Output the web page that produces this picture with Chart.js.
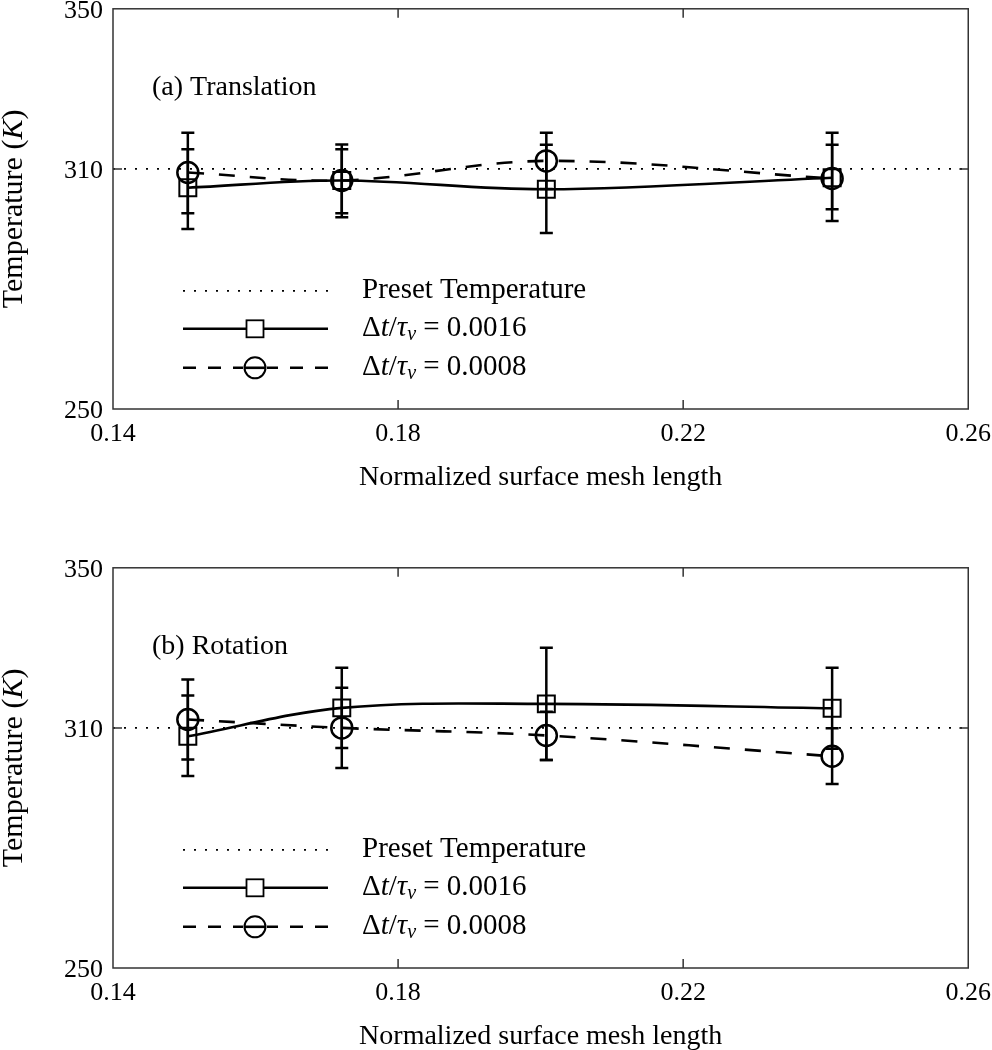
<!DOCTYPE html>
<html>
<head>
<meta charset="utf-8">
<script src="https://cdn.jsdelivr.net/npm/chart.js@4.4.1/dist/chart.umd.min.js"></script>
<style>
  html, body { margin: 0; padding: 0; background: #fff; overflow: hidden; }
  .panel { position: absolute; left: 0; width: 1001px; height: 509px; }
</style>
</head>
<body>
<div class="panel" style="top:-9px"><canvas id="transChart"></canvas></div>
<div class="panel" style="top:550px"><canvas id="rotChart"></canvas></div>
<script>
const meshLength = [0.1505, 0.1721, 0.2008, 0.2409];
const xTicks = [0.14, 0.18, 0.22, 0.26];
const yTicks = [250, 310, 350];
const presetTemp = 310;

// (a) Translation
const transDt16 = [305.3, 307.1, 304.9, 307.8];
const transDt16Lo = [295.0, 297.9, 294.0, 297.0];
const transDt16Hi = [314.9, 314.9, 316.0, 316.0];
const transDt08 = [309.1, 307.1, 312.0, 307.6];
const transDt08Lo = [298.9, 298.9, 305.0, 299.9];
const transDt08Hi = [319.0, 316.1, 319.0, 319.0];

// (b) Rotation
const rotDt16 = [307.9, 315.0, 316.0, 314.9];
const rotDt16Lo = [298.0, 305.0, 302.0, 304.8];
const rotDt16Hi = [318.1, 325.0, 330.0, 325.0];
const rotDt08 = [312.1, 310.0, 308.1, 302.9];
const rotDt08Lo = [302.1, 300.0, 302.0, 296.0];
const rotDt08Hi = [322.1, 320.0, 314.0, 309.9];

const SERIF = "'Liberation Serif', 'Times New Roman', serif";
Chart.defaults.font.family = SERIF;
Chart.defaults.color = '#000';

const DOTS = [2, 9];
const DASHES = [16, 15];

function toPoints(xs, ys) {
    return xs.map((x, i) => ({ x: x, y: ys[i] }));
}

// draws a run of text pieces (normal / italic / subscript) starting at x
function drawPieces(ctx, pieces, x, y) {
    pieces.forEach(p => {
        ctx.font = p.font;
        ctx.fillText(p.t, x, y + (p.dy || 0));
        x += ctx.measureText(p.t).width;
    });
    return x;
}

function piecesWidth(ctx, pieces) {
    let w = 0;
    pieces.forEach(p => { ctx.font = p.font; w += ctx.measureText(p.t).width; });
    return w;
}

function dtLabel(val) {
    return [
        { t: 'Δ', font: '29px ' + SERIF },
        { t: 't', font: 'italic 29px ' + SERIF },
        { t: '/', font: '29px ' + SERIF },
        { t: 'τ', font: 'italic 29px ' + SERIF },
        { t: 'ν', font: 'italic 20px ' + SERIF, dy: 6 },
        { t: ' = ' + val, font: '29px ' + SERIF },
    ];
}

const paperPlugin = {
    id: 'paper',
    afterDatasetsDraw(chart, args, opts) {
        const ctx = chart.ctx;
        const area = chart.chartArea;
        const xs = chart.scales.x;
        const ys = chart.scales.y;

        ctx.save();
        ctx.strokeStyle = '#000';
        ctx.fillStyle = '#000';

        // error bars
        ctx.lineWidth = 2.5;
        opts.errors.forEach(err => {
            meshLength.forEach((m, i) => {
                const px = xs.getPixelForValue(m);
                const pLo = ys.getPixelForValue(err.lo[i]);
                const pHi = ys.getPixelForValue(err.hi[i]);
                ctx.beginPath();
                ctx.moveTo(px, pLo); ctx.lineTo(px, pHi);
                ctx.moveTo(px - 6.5, pLo); ctx.lineTo(px + 6.5, pLo);
                ctx.moveTo(px - 6.5, pHi); ctx.lineTo(px + 6.5, pHi);
                ctx.stroke();
            });
        });

        // box and inward ticks
        ctx.strokeStyle = '#333';
        ctx.lineWidth = 1.5;
        ctx.strokeRect(area.left, area.top, area.right - area.left, area.bottom - area.top);
        ctx.beginPath();
        xTicks.slice(1, -1).forEach(v => {
            const px = xs.getPixelForValue(v);
            ctx.moveTo(px, area.bottom); ctx.lineTo(px, area.bottom - 9);
            ctx.moveTo(px, area.top); ctx.lineTo(px, area.top + 9);
        });
        yTicks.slice(1, -1).forEach(v => {
            const py = ys.getPixelForValue(v);
            ctx.moveTo(area.left, py); ctx.lineTo(area.left + 9, py);
            ctx.moveTo(area.right, py); ctx.lineTo(area.right - 9, py);
        });
        ctx.stroke();

        // panel label
        ctx.textBaseline = 'middle';
        ctx.textAlign = 'left';
        ctx.font = '28px ' + SERIF;
        ctx.fillText(opts.label, area.left + 39, area.top + 79);

        // legend
        const lx0 = area.left + 70, lx1 = area.left + 215, lm = area.left + 142, lt = area.left + 249;
        const rows = [area.top + 282, area.top + 320, area.top + 359];
        ctx.strokeStyle = '#000';

        ctx.lineWidth = 1.8;
        ctx.setLineDash(DOTS);
        ctx.beginPath(); ctx.moveTo(lx0, rows[0]); ctx.lineTo(lx1, rows[0]); ctx.stroke();
        ctx.font = '29px ' + SERIF;
        ctx.fillText('Preset Temperature', lt, rows[0]);

        ctx.lineWidth = 2.6;
        ctx.setLineDash([]);
        ctx.beginPath(); ctx.moveTo(lx0, rows[1]); ctx.lineTo(lx1, rows[1]); ctx.stroke();
        ctx.lineWidth = 1.8;
        ctx.fillStyle = '#fff';
        ctx.fillRect(lm - 8.5, rows[1] - 8.5, 17, 17);
        ctx.strokeRect(lm - 8.5, rows[1] - 8.5, 17, 17);
        ctx.fillStyle = '#000';
        drawPieces(ctx, dtLabel('0.0016'), lt, rows[1]);

        ctx.lineWidth = 2.6;
        ctx.setLineDash([13, 12]);
        ctx.beginPath(); ctx.moveTo(lx0, rows[2]); ctx.lineTo(lm - 12, rows[2]); ctx.stroke();
        ctx.beginPath(); ctx.moveTo(lx1, rows[2]); ctx.lineTo(lm + 12, rows[2]); ctx.stroke();
        ctx.setLineDash([]);
        ctx.beginPath(); ctx.moveTo(lm - 10.5, rows[2]); ctx.lineTo(lm + 10.5, rows[2]); ctx.stroke();
        ctx.lineWidth = 2;
        ctx.beginPath(); ctx.arc(lm, rows[2], 10.5, 0, Math.PI * 2); ctx.stroke();
        drawPieces(ctx, dtLabel('0.0008'), lt, rows[2]);

        // y axis title with italic K
        const title = [
            { t: 'Temperature (', font: '30px ' + SERIF },
            { t: 'K', font: 'italic 30px ' + SERIF },
            { t: ')', font: '30px ' + SERIF },
        ];
        ctx.translate(14, (area.top + area.bottom) / 2);
        ctx.rotate(-Math.PI / 2);
        drawPieces(ctx, title, -piecesWidth(ctx, title) / 2, 0);
        ctx.restore();
    }
};

function makeChart(id, label, s16, lo16, hi16, s08, lo08, hi08) {
    const ctx = document.getElementById(id).getContext('2d');
    return new Chart(ctx, {
        type: 'line',
        data: {
            datasets: [{
                label: 'Preset Temperature',
                data: [{ x: xTicks[0], y: presetTemp }, { x: xTicks[xTicks.length - 1], y: presetTemp }],
                borderColor: '#000',
                borderWidth: 1.8,
                borderDash: DOTS,
                pointRadius: 0,
                fill: false,
            }, {
                label: 'dt 0.0016',
                data: toPoints(meshLength, s16),
                borderColor: '#000',
                borderWidth: 2.6,
                tension: 0.35,
                pointStyle: 'rect',
                pointRadius: 12,
                pointBorderWidth: 2,
                pointBackgroundColor: 'rgba(0,0,0,0)',
                pointBorderColor: '#000',
                fill: false,
            }, {
                label: 'dt 0.0008',
                data: toPoints(meshLength, s08),
                borderColor: '#000',
                borderWidth: 2.6,
                borderDash: DASHES,
                tension: 0.35,
                pointStyle: 'circle',
                pointRadius: 10.5,
                pointBorderWidth: 2.5,
                pointBackgroundColor: 'rgba(0,0,0,0)',
                pointBorderColor: '#000',
                fill: false,
            }],
        },
        options: {
            animation: false,
            responsive: true,
            maintainAspectRatio: false,
            layout: { padding: { top: 8, right: 23, left: 0, bottom: 0 } },
            plugins: {
                legend: { display: false },
                tooltip: { enabled: false },
                paper: {
                    label: label,
                    errors: [{ lo: lo16, hi: hi16 }, { lo: lo08, hi: hi08 }],
                },
            },
            scales: {
                x: {
                    type: 'linear',
                    min: xTicks[0],
                    max: xTicks[xTicks.length - 1],
                    afterBuildTicks: scale => { scale.ticks = xTicks.map(v => ({ value: v })); },
                    afterFit: scale => { scale.height = 91; },
                    grid: { display: false, drawTicks: false },
                    border: { display: false },
                    ticks: {
                        padding: 10,
                        maxRotation: 0,
                        font: { size: 26 },
                        callback: v => v.toFixed(2),
                    },
                    title: {
                        display: true,
                        text: 'Normalized surface mesh length',
                        font: { size: 28 },
                        padding: { top: 0, bottom: 6 },
                    },
                },
                y: {
                    min: yTicks[0],
                    max: yTicks[yTicks.length - 1],
                    afterBuildTicks: scale => { scale.ticks = yTicks.map(v => ({ value: v })); },
                    afterFit: scale => { scale.width = 113; },
                    grid: { display: false, drawTicks: false },
                    border: { display: false },
                    ticks: {
                        padding: 10,
                        labelOffset: 2,
                        font: { size: 26, lineHeight: 0.6 },
                    },
                },
            },
        },
        plugins: [paperPlugin],
    });
}

makeChart('transChart', '(a) Translation',
    transDt16, transDt16Lo, transDt16Hi, transDt08, transDt08Lo, transDt08Hi);
makeChart('rotChart', '(b) Rotation',
    rotDt16, rotDt16Lo, rotDt16Hi, rotDt08, rotDt08Lo, rotDt08Hi);
</script>
</body>
</html>
